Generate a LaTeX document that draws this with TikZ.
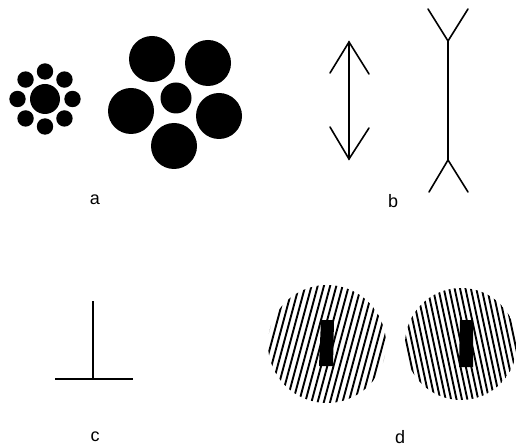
\documentclass[tikz,border=0pt]{standalone}
\usepackage{fontspec}
\setmainfont{Liberation Sans}
\usetikzlibrary{calc}
\begin{document}
\begin{tikzpicture}[x=1pt,y=-1pt,
  blob/.style={fill=black},
  stroke/.style={line width=1.6pt,line cap=round,line join=miter},
  stripe/.style={line width=1.9pt},
  lbl/.style={font=\fontsize{18}{20}\selectfont,inner sep=0pt}]
\useasboundingbox (0,0) rectangle (516,446);
% ---- panel a ----
\fill[blob] (45,99) circle (15);
\foreach \a in {0,45,...,315}
  \fill[blob] ($(45,99)+(\a:27.5)$) circle (8.2);
\fill[blob] (176,98) circle (15.5);
\foreach \p in {(152,59),(208,63),(131,111),(219,116),(174,146)}
  \fill[blob] \p circle (23);
\node[lbl] (la) at (95,200) {a};
% ---- panel b ----
\coordinate (bt) at (349,42);
\coordinate (bb) at (349,159);
\draw[stroke] (bt) -- (bb);
\draw[stroke] (330,73) -- (bt) -- (369,74);
\draw[stroke] (330,127) -- (bb) -- (369,128);
\coordinate (ft) at (448,41);
\coordinate (fb) at (448,160);
\draw[stroke] (ft) -- (fb);
\draw[stroke] (428,9) -- (ft) -- (468,9);
\draw[stroke] (429,192) -- (fb) -- (468,192);
\node[lbl] (lb) at (393,201) {b};
% ---- panel c ----
\coordinate (ctop) at (93,301);
\coordinate (cfoot) at (93,379);
\draw[line width=1.7pt] (ctop) -- (cfoot);
\draw[line width=1.7pt] (55,379) -- (133,379);
\node[lbl] (lc) at (95,437) {c};
% ---- panel d ----
\begin{scope}
  \clip (327,344) circle (59);
  \begin{scope}[shift={(327,344)},rotate=-15]
    \foreach \i in {-12,...,12}
      \draw[stripe] (\i*6,-80) -- (\i*6,80);
  \end{scope}
\end{scope}
\fill[blob] (321,320) -- (334,320) -- (333,366) -- (319,366) -- cycle;
\begin{scope}
  \clip (461,344) circle (56);
  \begin{scope}[shift={(461,344)},rotate=12]
    \foreach \i in {-14,...,14}
      \draw[stripe] (\i*5.3,-80) -- (\i*5.3,80);
  \end{scope}
\end{scope}
\fill[blob] (460,320) -- (473,320) -- (473,367) -- (459,367) -- cycle;
\node[lbl] (ld) at (400,437) {d};
\end{tikzpicture}
\end{document}
